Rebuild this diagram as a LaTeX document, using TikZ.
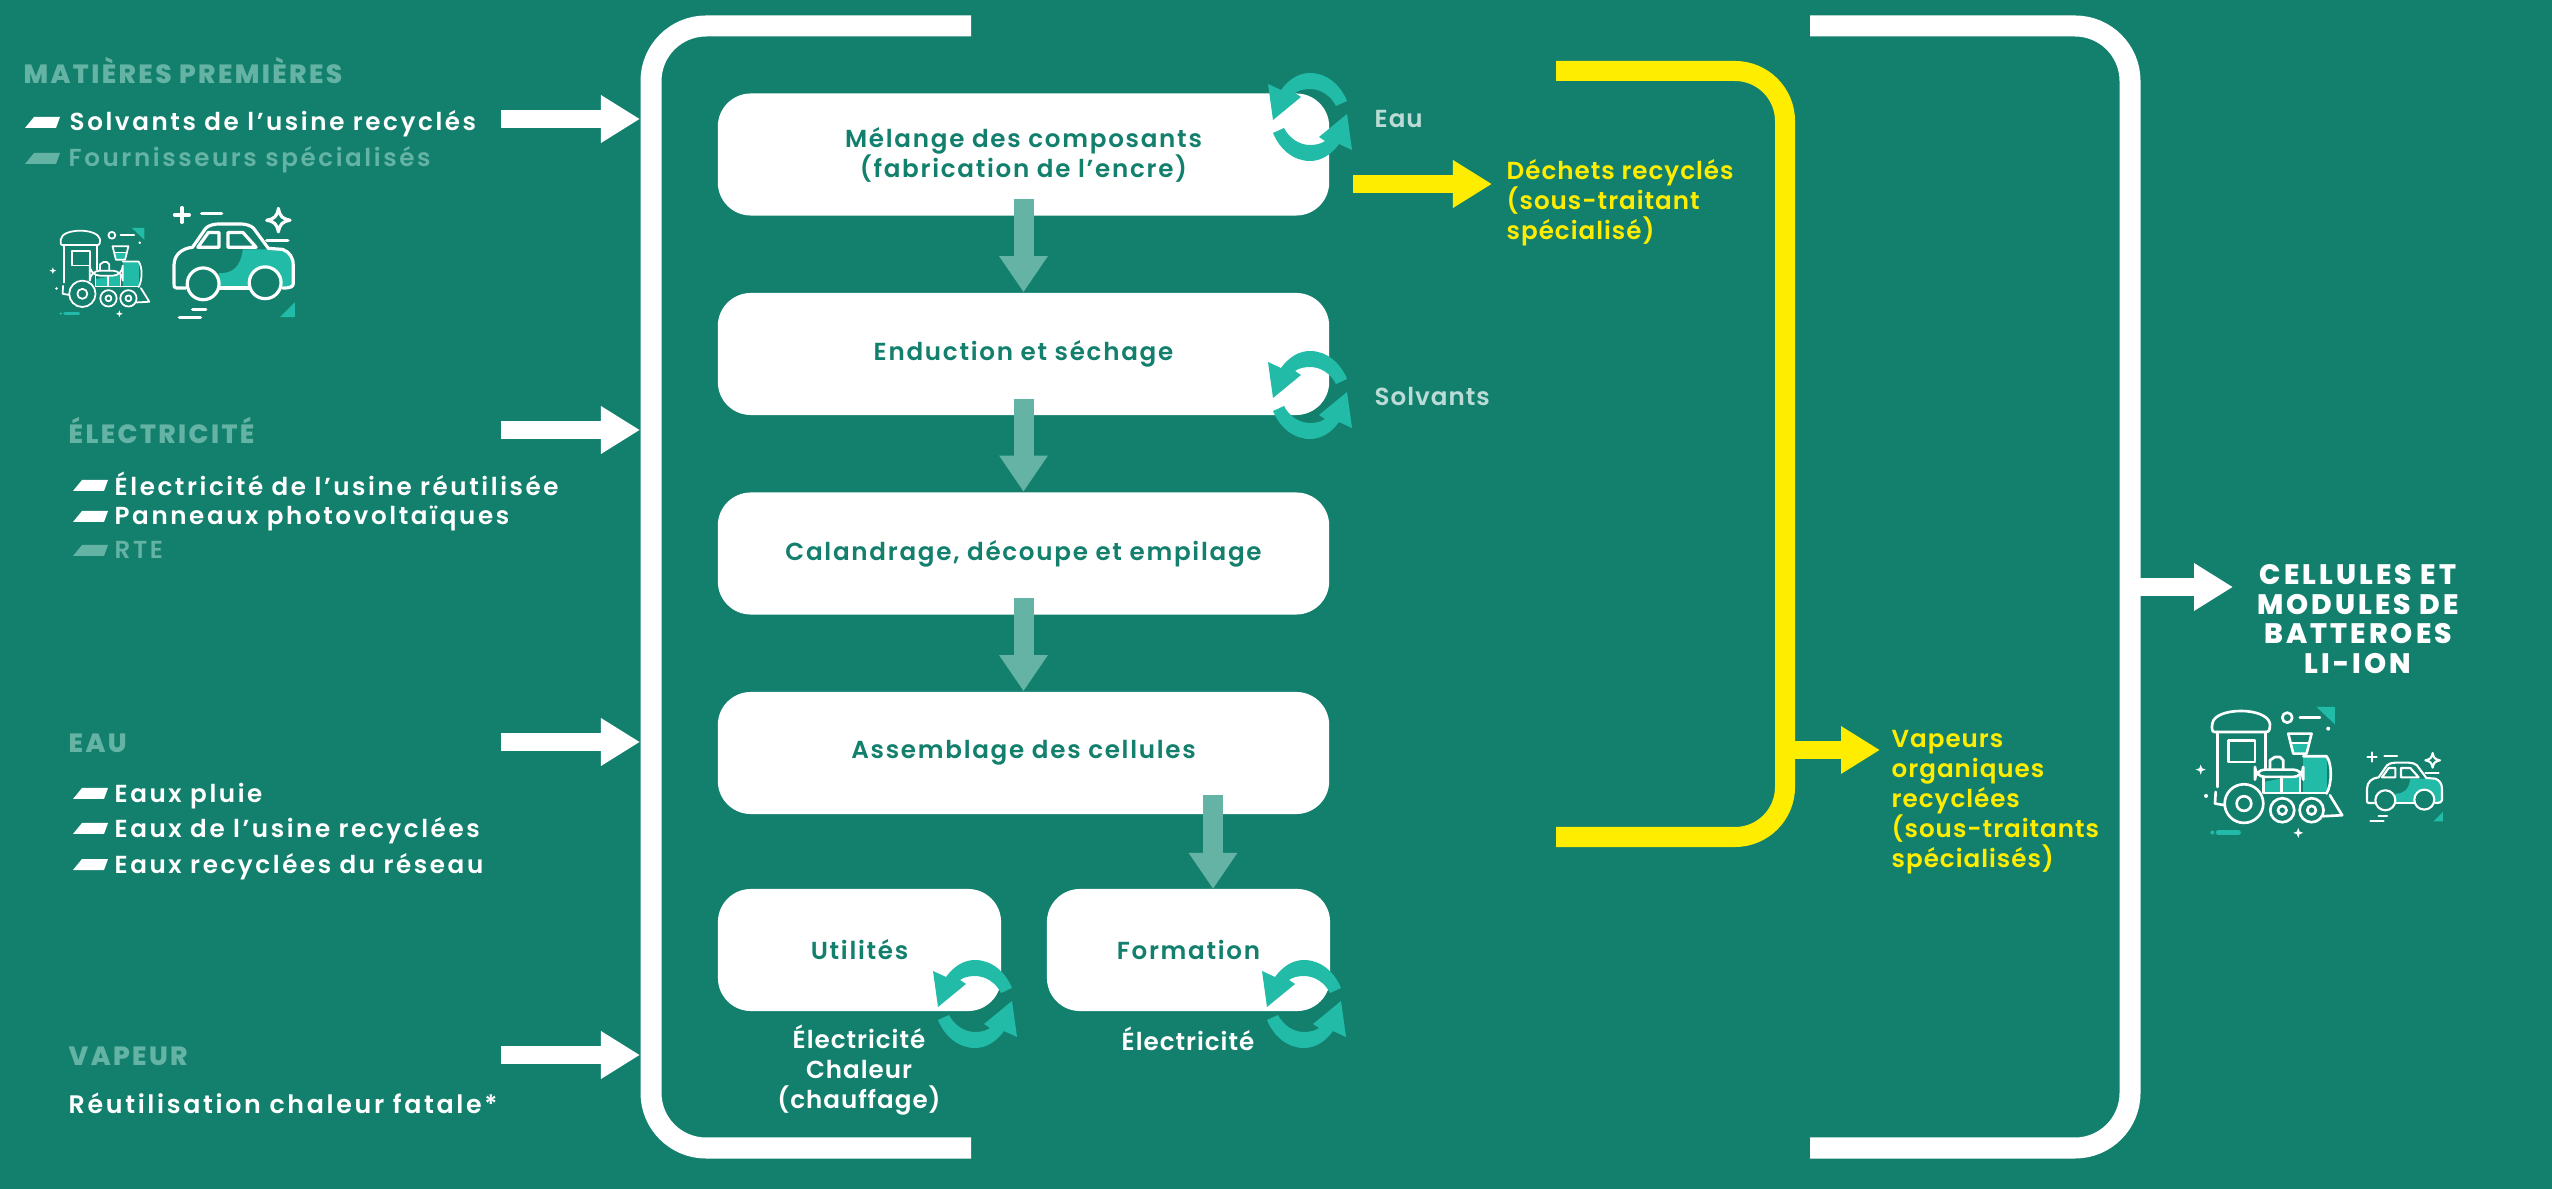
\documentclass[tikz,border=0pt]{standalone}
\usepackage{fontspec}
\setmainfont{Poppins SemiBold}[BoldFont=Poppins SemiBold,LetterSpace=4]
\newfontfamily\etapefont{Poppins SemiBold}[BoldFont=Poppins SemiBold,LetterSpace=7]
\newfontfamily\listefont{Poppins SemiBold}[BoldFont=Poppins SemiBold,LetterSpace=10.5]
\newfontfamily\titrefont{Poppins ExtraBold}[BoldFont=Poppins ExtraBold,LetterSpace=9]
\newfontfamily\sortiefont{Poppins ExtraBold}[BoldFont=Poppins ExtraBold,LetterSpace=11]
\usetikzlibrary{arrows.meta}
\definecolor{fond}{HTML}{13806E}
\definecolor{turquoise}{HTML}{22BBA8}
\definecolor{attenue}{HTML}{64B3A4}
\definecolor{clair}{HTML}{BBDCD6}
\definecolor{jaune}{HTML}{FFED00}
\def\corps{\bfseries\fontsize{7pt}{8.5pt}\selectfont}
\newcommand\etincelle[1]{\fill (#1) ++(0,-15) -- ++(4,11) -- ++(11,4) -- ++(-11,4) -- ++(-4,11) -- ++(-4,-11) -- ++(-11,-4) -- ++(11,-4) -- cycle;}
\tikzset{
	etape/.style={draw=none,fill=white,rounded corners=3.3mm,inner sep=0pt,minimum height=1.22cm,text=fond,align=center,font=\etapefont\corps},
	titre/.style={anchor=west,inner sep=0pt,text height=2.1mm,text depth=0mm,text=attenue,font=\titrefont\bfseries\fontsize{7.5pt}{9pt}\selectfont},
	liste/.style={anchor=west,inner sep=0pt,text height=1.8mm,text depth=0mm,text=white,font=\listefont\corps},
	note/.style={inner sep=0pt,align=left,anchor=west,font=\corps},
	puce/.pic={\fill (0,11) -- (9,0) -- (35,0) -- (31,11) -- cycle;},
	flecheblanche/.style={white,line width=1.8mm,-{Triangle[length=3.9mm,width=4.5mm]}},
	flechejaune/.style={jaune,line width=1.8mm,-{Triangle[length=3.9mm,width=4.5mm]}},
	flechepale/.style={attenue,line width=2mm,-{Triangle[length=3.6mm,width=4.6mm]}},
	recycle/.pic={
		\foreach \a in {0,180}{
			\fill[turquoise,rotate=\a] (37,-16) .. controls (30,-33) and (16,-44) .. (0,-44)
				.. controls (-11,-44) and (-21,-38) .. (-29,-27) -- (-42,-33) -- (-37,3) -- (-9,-20) -- (-15,-24)
				.. controls (-11,-27) and (-5,-28) .. (0,-28) .. controls (11,-28) and (21,-21) .. (26,-11) -- cycle;
		}
	},
	trainicon/.pic={
		\fill[turquoise] (288,108) -- (345,108) -- (335,140) -- (295,140) -- cycle;
		\fill[turquoise] (325,150) -- (395,150) -- (395,255) -- (325,255) -- cycle;
		\fill[turquoise] (205,225) -- (315,205) -- (315,255) -- (205,255) -- cycle;
		\fill[turquoise] (365,0) -- (420,0) -- (420,52) -- cycle;
		\fill[turquoise] (52,377) circle[radius=6];
		\draw[turquoise,line width=1.4*\pgflinewidth,line cap=round] (70,377) -- (130,377);
		\begin{scope}[white,line cap=round,line join=round]
		\draw (58,75) -- (215,75) .. controls (225,75) and (225,60) .. (225,50)
			.. controls (220,25) and (180,12) .. (138,12) .. controls (95,12) and (55,25) .. (52,50)
			.. controls (50,60) and (50,75) .. (58,75);
		\draw (67,75) -- (67,240);
		\draw (212,75) -- (212,185);
		\draw (100,100) rectangle (180,165);
		\draw (280,80) -- (350,80) -- (335,140) -- (295,140) -- cycle;
		\draw (290,108) -- (342,108);
		\draw (325,148) -- (395,148) .. controls (412,170) and (412,230) .. (395,260);
		\draw[rounded corners=1mm] (180,188) rectangle (325,210);
		\draw (225,188) -- (225,160) -- (240,150) -- (255,150) -- (265,160) -- (265,188);
		\draw (205,210) -- (205,258) -- (395,258);
		\draw (260,210) -- (260,258);
		\draw (315,210) -- (315,258);
		\draw[fill=fond] (147,290) circle[radius=58];
		\draw (147,290) circle[radius=22];
		\draw[fill=fond] (262,310) circle[radius=36];
		\draw (262,310) circle[radius=13];
		\draw[fill=fond] (350,310) circle[radius=36];
		\draw (350,310) circle[radius=13];
		\draw (405,265) -- (442,325) -- (385,328);
		\draw (62,255) -- (60,290) -- (90,295);
		\draw (277,32) circle[radius=15];
		\draw (315,32) -- (375,32);
		\fill (400,65) circle[radius=6];
		\fill (33,267) circle[radius=6];
		\etincelle{17,188}
		\etincelle{310,378}
		\end{scope}
	},
	caricon/.pic={
		\fill[turquoise] (130,80) -- (205,80) .. controls (218,85) and (225,95) .. (225,110) -- (225,150) -- (80,153) -- (85,125)
			.. controls (110,125) and (125,115) .. cycle;
		\fill[turquoise] (200,208) -- (228,208) -- (228,180) -- cycle;
		\begin{scope}[white,line cap=round,line join=round]
		\draw (22,153) -- (5,153) .. controls (0,153) and (0,150) .. (0,145) -- (0,110) .. controls (0,90) and (15,78) .. (35,76)
			-- (60,40) .. controls (65,35) and (75,32) .. (85,32) -- (125,32) .. controls (135,32) and (145,35) .. (150,40)
			-- (178,78) -- (205,80) .. controls (218,85) and (225,95) .. (225,110) -- (225,145) .. controls (225,150) and (220,153) .. (205,153);
		\draw (85,153) -- (145,153);
		\draw (45,76) -- (65,48) -- (85,48) -- (85,76) -- cycle;
		\draw (102,76) -- (102,48) -- (130,48) -- (155,76) -- cycle;
		\draw[fill=fond] (55,145) circle[radius=30];
		\draw[fill=fond] (172,143) circle[radius=30];
		\draw (1,15) -- (29,15) (15,1) -- (15,29);
		\draw (52,13) -- (90,13);
		\draw (197,3) .. controls (200,18) and (204,22) .. (219,25) .. controls (204,28) and (200,32) .. (197,47)
			.. controls (194,32) and (190,28) .. (175,25) .. controls (190,22) and (194,18) .. cycle;
		\draw (175,63) -- (215,63);
		\draw (35,193) -- (60,193);
		\draw (10,208) -- (50,208);
		\end{scope}
	}
}

\begin{document}
\begin{tikzpicture}[x=0.01cm,y=-0.01cm]
\fill[fond] (0,0) rectangle (2552,1189);
\useasboundingbox (0,0) rectangle (2552,1189);

% cadres
\draw[white,line width=2.1mm,rounded corners=5.5mm] (971,26) -- (651,26) -- (651,1148) -- (971,1148);
\draw[white,line width=2.1mm,rounded corners=5.5mm] (1810,26) -- (2130,26) -- (2130,1148) -- (1810,1148);
\draw[jaune,line width=2mm,rounded corners=5mm] (1556,71) -- (1785,71) -- (1785,837) -- (1556,837);

% etapes
\node[etape,minimum width=6.11cm] (melange) at (1023.5,154.5) {Mélange des composants\\(fabrication de l’encre)};
\node[etape,minimum width=6.11cm] (enduction) at (1023.5,354) {Enduction et séchage};
\node[etape,minimum width=6.11cm] (calandrage) at (1023.5,553.5) {Calandrage, découpe et empilage};
\node[etape,minimum width=6.11cm] (assemblage) at (1023.5,753) {Assemblage des cellules};
\node[etape,minimum width=2.83cm] (utilites) at (859.5,950) {Utilités};
\node[etape,minimum width=2.83cm] (formation) at (1188.5,950) {Formation};

\draw[flechepale] ([yshift=.17cm]melange.south) -- (enduction.north);
\draw[flechepale] ([yshift=.17cm]enduction.south) -- (calandrage.north);
\draw[flechepale] ([yshift=.17cm]calandrage.south) -- (assemblage.north);
\coordinate (versformation) at (1213,889);
\draw[flechepale] ([yshift=.2cm]assemblage.south -| versformation) -- (versformation);

\pic at (1310,117) {recycle};
\pic at (1310,395) {recycle};
\pic at (975,1004) {recycle};
\pic at (1304,1004) {recycle};

% entrees
\node[titre] (matieres) at (23,73) {MATIÈRES PREMIÈRES};
\pic[white] at (25,117) {puce};
\node[liste] (solvantsusine) at (69,122) {Solvants de l’usine recyclés};
\pic[attenue] at (25,153) {puce};
\node[liste,text=attenue] (fournisseurs) at (68,158) {Fournisseurs spécialisés};

\node[titre] (electricite) at (68,433) {ÉLECTRICITÉ};
\pic[white] at (73,480) {puce};
\node[liste] (elecusine) at (114,487) {Électricité de l’usine réutilisée};
\pic[white] at (73,511) {puce};
\node[liste] (panneaux) at (114,516) {Panneaux photovoltaïques};
\pic[attenue] at (73,545) {puce};
\node[liste,text=attenue] (rte) at (114,550) {RTE};

\node[titre] (eau) at (68,742) {EAU};
\pic[white] at (73,788) {puce};
\node[liste] (pluie) at (114,793) {Eaux pluie};
\pic[white] at (73,823) {puce};
\node[liste] (eauxusine) at (114,828) {Eaux de l’usine recyclées};
\pic[white] at (73,859) {puce};
\node[liste] (eauxreseau) at (114,864) {Eaux recyclées du réseau};

\node[titre] (vapeur) at (68,1055) {VAPEUR};
\node[liste,font=\listefont\bfseries\fontsize{7.2pt}{8.5pt}\selectfont] (chaleur) at (68,1104) {Réutilisation chaleur fatale*};

\foreach \nom/\y in {mat/119,ele/430,eau/742,vap/1055}{
	\coordinate (\nom A) at (501,\y);
	\coordinate (\nom B) at (640,\y);
	\draw[flecheblanche] (\nom A) -- (\nom B);
}

% sorties
\node[liste,text=clair,font=\corps] (soutieneau) at (1374,119) {Eau};
\node[liste,text=clair,font=\corps] (soutiensolvants) at (1374,397) {Solvants};
\node[note,text=jaune] (dechets) at (1506,203) {Déchets recyclés\\(sous-traitant\\spécialisé)};
\node[note,text=jaune] (vapeurs) at (1891,802) {Vapeurs\\organiques\\recyclées\\(sous-traitants\\spécialisés)};
\node[note,align=center,anchor=center,text=white] (utilelec) at (859,1070) {Électricité\\Chaleur\\(chauffage)};
\node[note,align=center,anchor=center,text=white] (formelec) at (1188,1039) {Électricité};

\coordinate (departdechets) at (1353,184);
\coordinate (departvapeurs) at (1795,750);
\coordinate (finvapeurs) at (1880,750);
\coordinate (departsortie) at (2130,587);
\coordinate (finsortie) at (2233,587);
\draw[flechejaune] (departdechets) -- ([xshift=-.14cm]dechets.west |- departdechets);
\draw[flechejaune] (departvapeurs) -- (finvapeurs);
\draw[flecheblanche] (departsortie) -- (finsortie);

\node[inner sep=0pt,align=center,text=white,font=\sortiefont\bfseries\fontsize{8pt}{8.5pt}\selectfont] (cellules) at (2358,619) {CELLULES ET\\MODULES DE\\BATTEROES\\LI-ION};

% icones
\pic[scale=.227,line width=.5pt] at (49,228) {trainicon};
\pic[scale=.53,line width=.9pt] at (174,207) {caricon};
\pic[scale=.333,line width=.75pt] at (2195,707) {trainicon};
\pic[scale=.333,line width=.6pt] at (2367,752) {caricon};
\end{tikzpicture}
\end{document}
